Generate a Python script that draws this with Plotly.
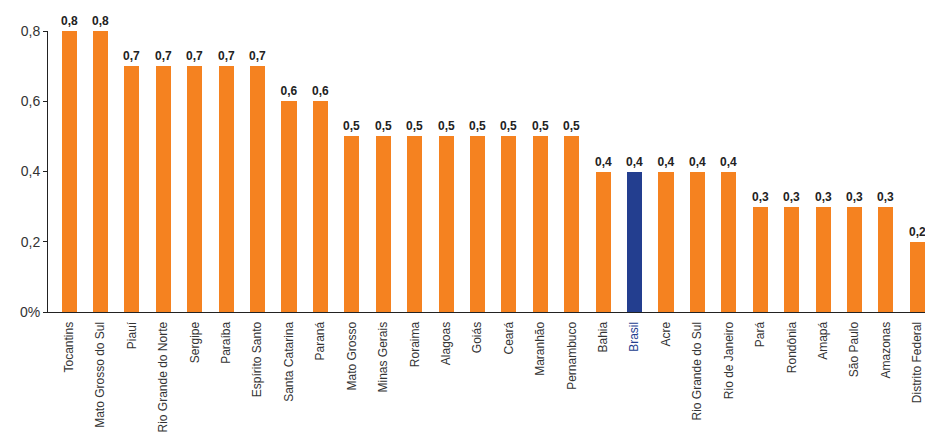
import plotly.graph_objects as go

states = ["Tocantins", "Mato Grosso do Sul", "Piauí", "Rio Grande do Norte", "Sergipe",
          "Paraíba", "Espírito Santo", "Santa Catarina", "Paraná", "Mato Grosso",
          "Minas Gerais", "Roraima", "Alagoas", "Goiás", "Ceará", "Maranhão",
          "Pernambuco", "Bahia", "Brasil", "Acre", "Rio Grande do Sul", "Rio de Janeiro",
          "Pará", "Rondônia", "Amapá", "São Paulo", "Amazonas", "Distrito Federal"]
values = [0.8, 0.8, 0.7, 0.7, 0.7, 0.7, 0.7, 0.6, 0.6, 0.5, 0.5, 0.5, 0.5, 0.5, 0.5, 0.5,
          0.5, 0.4, 0.4, 0.4, 0.4, 0.4, 0.3, 0.3, 0.3, 0.3, 0.3, 0.2]
y_ticks = [0, 0.2, 0.4, 0.6, 0.8]
y_tick_labels = ["0%", "0,2", "0,4", "0,6", "0,8"]

ORANGE = "#F58220"
BLUE = "#233E8F"
highlight = "Brasil"

colors = [BLUE if s == highlight else ORANGE for s in states]
ticktext = [f"<span style='color:{BLUE}'>{s}</span>" if s == highlight else s for s in states]
xs = list(range(len(states)))

fig = go.Figure(go.Bar(
    x=xs, y=values, marker=dict(color=colors, line=dict(width=0)),
    width=0.48,
    text=[f"{v:.1f}".replace(".", ",") for v in values],
    texttemplate="<b>%{text}</b>",
    textposition="outside", cliponaxis=False, constraintext="none",
    textfont=dict(family="Liberation Sans, Arial", size=12, color="#222"),
))

fig.update_layout(
    width=925, height=438,
    margin=dict(l=40, r=0, t=23, b=134, autoexpand=False),
    plot_bgcolor="white", paper_bgcolor="white",
    showlegend=False, bargap=0,
    font=dict(family="Liberation Sans, Arial", color="#333"),
)
fig.update_xaxes(
    range=[-0.67, 27.5], tickmode="array", tickvals=xs, ticktext=ticktext,
    tickangle=-90, tickfont=dict(size=12, color="#333"),
    showline=True, linecolor="#222", linewidth=1,
    ticks="outside", ticklen=4, tickcolor="rgba(0,0,0,0)",
    showgrid=False, zeroline=False, automargin=False,
)
fig.update_yaxes(
    range=[0, 0.8], tickmode="array", tickvals=y_ticks, ticktext=y_tick_labels,
    tickfont=dict(size=14, color="#333"),
    showline=True, linecolor="#222", linewidth=1, ticks="outside", ticklen=4,
    tickcolor="#222", showgrid=False, zeroline=False, automargin=False,
)

fig.write_html("out.html")
